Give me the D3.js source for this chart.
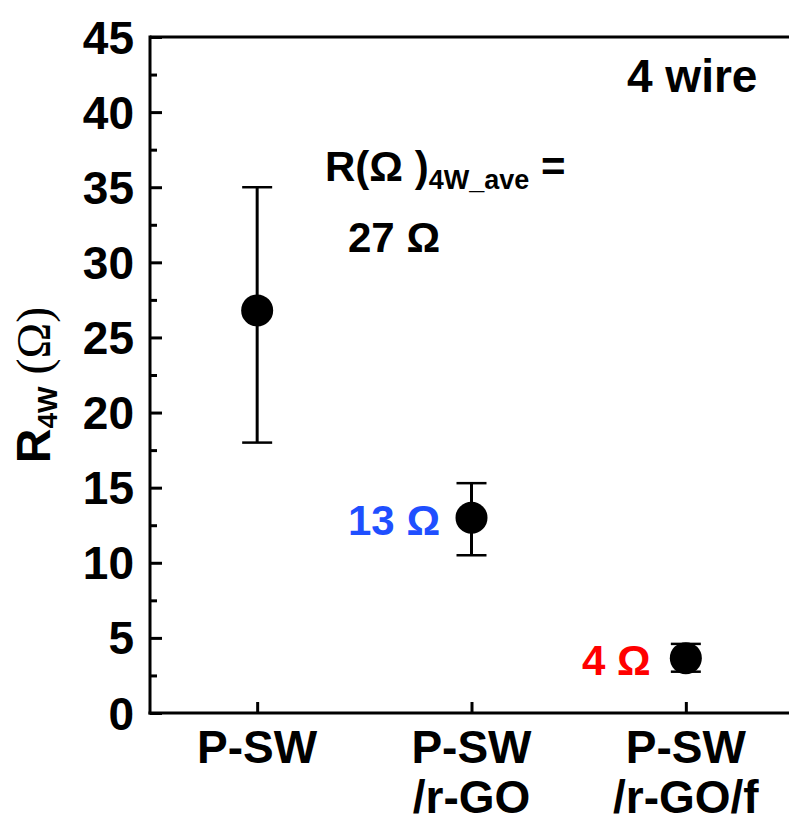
<!DOCTYPE html>
<html>
<head>
<meta charset="utf-8">
<script src="https://cdn.jsdelivr.net/npm/d3@7"></script>
<style>
  body { margin: 0; background: #fff; }
  svg { display: block; }
</style>
</head>
<body>
<div class="js-chart"></div>
<script>
// data
const categories = [["P-SW"], ["P-SW", "/r-GO"], ["P-SW", "/r-GO/f"]];
const positions = [1, 2, 3];
const values = [26.8, 13.0, 3.65];
const errLow = [18.0, 10.5, 2.75];
const errHigh = [35.0, 15.3, 4.6];
const yTicks = [0, 5, 10, 15, 20, 25, 30, 35, 40, 45];
const yMinorTicks = [2.5, 7.5, 12.5, 17.5, 22.5, 27.5, 32.5, 37.5, 42.5];
const valueLabels = ["27 Ω", "13 Ω", "4 Ω"];

const width = 789
    , height = 824
    , plotLeft = 150
    , plotTop = 37
    , plotBottom = 713
    , font = "'Liberation Sans', Arial, sans-serif"
    ;

const x = d3.scaleLinear().domain([0.5, 3.5]).range([plotLeft, 793]);
const y = d3.scaleLinear().domain([0, 45]).range([plotBottom, plotTop]);

const svg = d3.select(".js-chart")
  .append("svg")
  .attr("width", width)
  .attr("height", height);

// frame: top line only (right side is cropped)
svg.append("line")
  .attr("x1", plotLeft).attr("x2", width + 5)
  .attr("y1", plotTop).attr("y2", plotTop)
  .attr("stroke", "#000").attr("stroke-width", 3);

// left axis
const yAxis = svg.append("g")
  .attr("transform", `translate(${plotLeft},0)`)
  .call(d3.axisRight(y).tickValues(yTicks).tickSize(12).tickFormat(""));
yAxis.select(".domain").remove();
yAxis.selectAll("line").attr("stroke-width", 3);

const yMinor = svg.append("g")
  .attr("transform", `translate(${plotLeft},0)`)
  .call(d3.axisRight(y).tickValues(yMinorTicks).tickSize(7).tickFormat(""));
yMinor.select(".domain").remove();
yMinor.selectAll("line").attr("stroke-width", 3);

svg.append("line")
  .attr("x1", plotLeft).attr("x2", plotLeft)
  .attr("y1", plotTop - 1.5).attr("y2", plotBottom + 1.5)
  .attr("stroke", "#000").attr("stroke-width", 3);

svg.append("g")
  .selectAll("text")
  .data(yTicks)
  .join("text")
  .attr("x", plotLeft - 16)
  .attr("y", d => y(d))
  .attr("dy", "0.36em")
  .attr("text-anchor", "end")
  .style("font", `bold 46px ${font}`)
  .text(d => d);

// bottom axis
const xAxis = svg.append("g")
  .attr("transform", `translate(0,${plotBottom})`)
  .call(d3.axisTop(x).tickValues(positions).tickSize(11).tickFormat(""));
xAxis.select(".domain").remove();
xAxis.selectAll("line").attr("stroke-width", 3);

svg.append("line")
  .attr("x1", plotLeft - 1.5).attr("x2", width + 5)
  .attr("y1", plotBottom).attr("y2", plotBottom)
  .attr("stroke", "#000").attr("stroke-width", 3);

const catText = svg.append("g")
  .selectAll("text")
  .data(categories)
  .join("text")
  .attr("text-anchor", "middle")
  .style("font", `bold 46px ${font}`);
catText.selectAll("tspan")
  .data((d, i) => d.map(t => ({t, i})))
  .join("tspan")
  .attr("x", d => x(positions[d.i]))
  .attr("y", (d, j) => 763 + j * 50)
  .text(d => d.t);

// y axis title
const yTitle = svg.append("text")
  .attr("transform", `translate(50,${(plotTop + plotBottom) / 2 + 10}) rotate(-90)`)
  .attr("text-anchor", "middle")
  .style("font", `bold 48px ${font}`);
yTitle.append("tspan").text("R");
yTitle.append("tspan").attr("dy", 7).style("font-size", "28px").text("4W");
yTitle.append("tspan").attr("dy", -7).style("font", "normal 48px 'Liberation Serif', serif").text(" (Ω)");

// error bars + points
const pts = svg.append("g")
  .selectAll("g")
  .data(values)
  .join("g");

pts.append("line")
  .attr("x1", (d, i) => x(positions[i]))
  .attr("x2", (d, i) => x(positions[i]))
  .attr("y1", (d, i) => y(errLow[i]))
  .attr("y2", (d, i) => y(errHigh[i]))
  .attr("stroke", "#000").attr("stroke-width", 3);

pts.selectAll(".cap")
  .data((d, i) => [errLow[i], errHigh[i]].map(v => ({v, i})))
  .join("line")
  .attr("class", "cap")
  .attr("x1", d => x(positions[d.i]) - 15)
  .attr("x2", d => x(positions[d.i]) + 15)
  .attr("y1", d => y(d.v))
  .attr("y2", d => y(d.v))
  .attr("stroke", "#000").attr("stroke-width", 2.5);

pts.append("circle")
  .attr("cx", (d, i) => x(positions[i]))
  .attr("cy", d => y(d))
  .attr("r", 16)
  .attr("fill", "#000");

// annotations
svg.append("text")
  .attr("x", 627).attr("y", 92)
  .style("font", `bold 46px ${font}`)
  .text("4 wire");

const ave = svg.append("text")
  .attr("x", 325).attr("y", 181)
  .style("font", `bold 42px ${font}`);
ave.append("tspan").text("R(Ω )");
ave.append("tspan").attr("dy", 8).style("font-size", "27px").text("4W_ave");
ave.append("tspan").attr("dy", -8).text(" =");

svg.append("text")
  .attr("x", 348).attr("y", 252)
  .style("font", `bold 42px ${font}`)
  .text(valueLabels[0]);

svg.append("text")
  .attr("x", 348).attr("y", 535)
  .attr("fill", "#1f4fff")
  .style("font", `bold 42px ${font}`)
  .text(valueLabels[1]);

svg.append("text")
  .attr("x", 582).attr("y", 675)
  .attr("fill", "#ff0000")
  .style("font", `bold 42px ${font}`)
  .text(valueLabels[2]);
</script>
</body>
</html>
